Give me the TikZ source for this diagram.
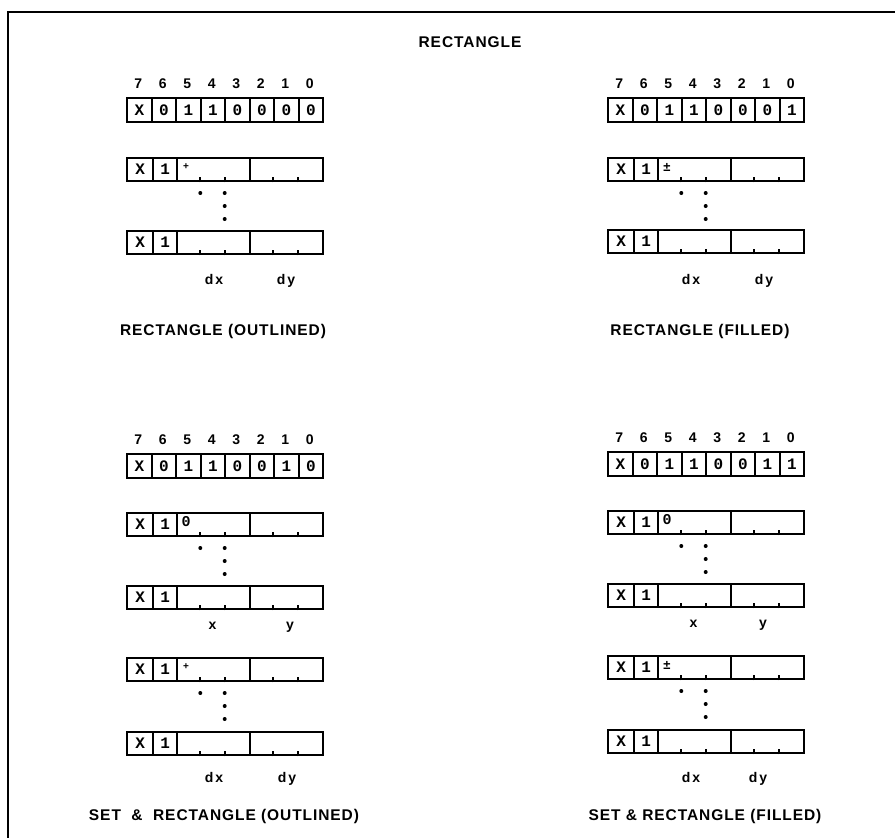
\documentclass[tikz,border=0pt]{standalone}
\usepackage{fontspec}
\setmainfont{Liberation Sans}
\newfontfamily\ttlfont[LetterSpace=6]{Liberation Sans}
\newfontfamily\lblfont[LetterSpace=14]{Liberation Sans}
\newfontfamily\numfont{Liberation Sans}
\newfontfamily\cellfnt[UprightFont=* Bold]{Liberation Mono}
\tikzset{
  bitcell/.style={draw, line width=2.4pt, minimum width=24.5pt, minimum height=24pt, inner sep=0pt, anchor=north west, font=\cellfnt\fontsize{16}{16}\selectfont},
  fcell/.style={draw, line width=2.4pt, minimum height=23pt, inner sep=0pt, anchor=north west, font=\cellfnt\fontsize{16}{16}\selectfont},
  bitnum/.style={font=\numfont\fontsize{14}{14}\selectfont\bfseries, inner sep=0pt, anchor=base},
  lbl/.style={font=\lblfont\fontsize{14}{14}\selectfont\bfseries, inner sep=0pt, anchor=base},
  ttl/.style={font=\ttlfont\fontsize{15.5}{16}\selectfont\bfseries, inner sep=0pt, anchor=base},
  tickmark/.style={line width=2pt},
  dotmark/.style={fill=black},
  signmark/.style={inner sep=0pt, anchor=center}
}
\newcommand\bitrow[4]{%
  \foreach \b [count=\i from 0] in {#4} {
    \node[bitcell] (#1c\i) at ({#2+24.5*\i},#3) {\b};
    \pgfmathtruncatemacro\nb{7-\i}
    \node[bitnum] (#1n\i) at ({#2+24.5*\i+12.25},{#3-9}) {\nb};
  }%
}
\newcommand\fieldrow[5]{%
  \node[fcell, minimum width=26pt] (#1a) at (#2,#3) {X};
  \node[fcell, minimum width=24pt] (#1b) at ({#2+26},#3) {#4};
  \node[fcell, minimum width=73pt] (#1c) at ({#2+50},#3) {};
  \node[fcell, minimum width=73pt] (#1d) at ({#2+123},#3) {};
  \draw[tickmark] ([xshift=24.3pt]#1c.south west) -- ++(0,-5);
  \draw[tickmark] ([xshift=48.7pt]#1c.south west) -- ++(0,-5);
  \draw[tickmark] ([xshift=24.3pt]#1d.south west) -- ++(0,-5);
  \draw[tickmark] ([xshift=48.7pt]#1d.south west) -- ++(0,-5);
  \node[signmark] (#1m) at ([xshift=10pt,yshift=-10pt]#1c.north west) {#5};
}
\newcommand\contdots[2]{%
  \fill[dotmark] ({#1+74.3},{#2+36}) circle (2);
  \fill[dotmark] ({#1+98.7},{#2+36}) circle (2);
  \fill[dotmark] ({#1+98.7},{#2+49}) circle (2);
  \fill[dotmark] ({#1+98.7},{#2+62}) circle (2);
}
\newcommand\smallplus{{\fontsize{10}{10}\selectfont\bfseries +}}
\newcommand\pmmark{{\fontsize{13}{13}\selectfont\bfseries ±}}
\newcommand\zeromark{{\cellfnt\fontsize{15}{15}\selectfont 0}}
\begin{document}
\begin{tikzpicture}[x=1pt,y=-1pt]
\useasboundingbox (0,0) rectangle (895,838);
% frame
\coordinate (fbl) at (8,838);
\coordinate (ftl) at (8,12);
\coordinate (ftr) at (895,12);
\draw[line width=2pt] (fbl) -- (ftl) -- (ftr);
\node[ttl] (title) at (470,47) {RECTANGLE};

% ---------- top left: outlined
\bitrow{tl}{126}{97}{X,0,1,1,0,0,0,0}
\fieldrow{tlA}{126}{157}{1}{\smallplus}
\contdots{126}{157}
\fieldrow{tlB}{126}{230}{1}{}
\node[lbl] (tldx) at (214,284) {dx};
\node[lbl] (tldy) at (286,284) {dy};
\node[ttl] (tlt) at (223,335) {RECTANGLE (OUTLINED)};

% ---------- top right: filled
\bitrow{tr}{607}{97}{X,0,1,1,0,0,0,1}
\fieldrow{trA}{607}{157}{1}{\pmmark}
\contdots{607}{157}
\fieldrow{trB}{607}{229}{1}{}
\node[lbl] (trdx) at (691,284) {dx};
\node[lbl] (trdy) at (764,284) {dy};
\node[ttl] (trt) at (700,335) {RECTANGLE (FILLED)};

% ---------- bottom left: set & outlined
\bitrow{bl}{126}{453}{X,0,1,1,0,0,1,0}
\fieldrow{blA}{126}{512}{1}{\zeromark}
\contdots{126}{512}
\fieldrow{blB}{126}{585}{1}{}
\node[lbl] (blx) at (212.5,629) {x};
\node[lbl] (bly) at (290,629) {y};
\fieldrow{blC}{126}{657}{1}{\smallplus}
\contdots{126}{657}
\fieldrow{blD}{126}{731}{1}{}
\node[lbl] (bldx) at (214,782) {dx};
\node[lbl] (bldy) at (287,782) {dy};
\node[ttl] (blt) at (224,820) {SET\ \ \&\ \ RECTANGLE (OUTLINED)};

% ---------- bottom right: set & filled
\bitrow{br}{607}{451}{X,0,1,1,0,0,1,1}
\fieldrow{brA}{607}{510}{1}{\zeromark}
\contdots{607}{510}
\fieldrow{brB}{607}{583}{1}{}
\node[lbl] (brx) at (693.5,627) {x};
\node[lbl] (bry) at (763,627) {y};
\fieldrow{brC}{607}{655}{1}{\pmmark}
\contdots{607}{655}
\fieldrow{brD}{607}{729}{1}{}
\node[lbl] (brdx) at (691,782) {dx};
\node[lbl] (brdy) at (758,782) {dy};
\node[ttl] (brt) at (705,820) {SET \& RECTANGLE (FILLED)};
\end{tikzpicture}
\end{document}
